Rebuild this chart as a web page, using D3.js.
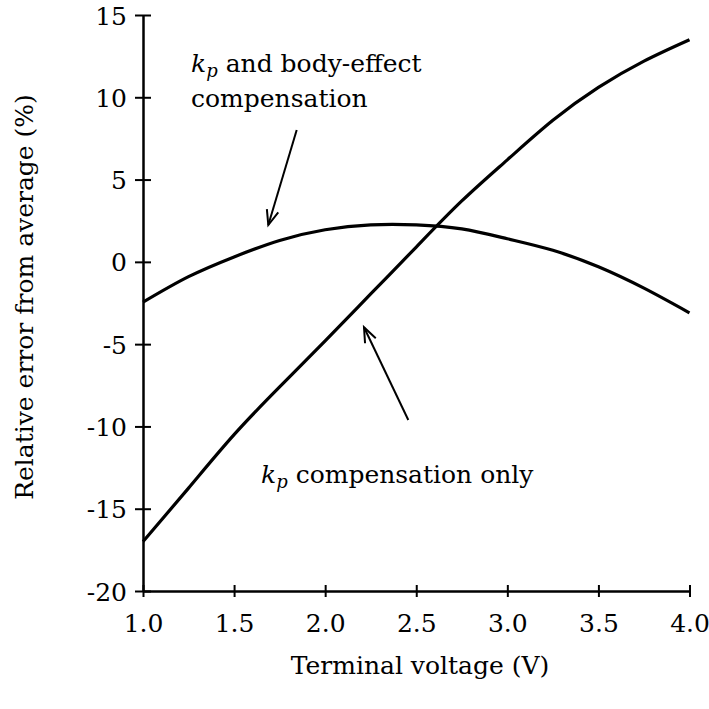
<!DOCTYPE html>
<html><head><meta charset="utf-8">
<script src="https://cdn.jsdelivr.net/npm/d3@7"></script>
<style>body{margin:0;background:#fff}svg{display:block}text{font-family:"DejaVu Serif",serif !important;fill:#000}</style>
</head><body>
<script>
const voltage = [1.0,1.25,1.5,1.75,2.0,2.25,2.5,2.75,3.0,3.25,3.5,3.75,4.0];
const kpOnly = [-17.0,-13.75,-10.5,-7.6,-4.8,-1.95,0.9,3.7,6.2,8.6,10.6,12.2,13.5];
const kpBody = [-2.45,-0.9,0.3,1.3,1.95,2.25,2.25,2.0,1.4,0.7,-0.3,-1.6,-3.1];
const xTicks = [1.0,1.5,2.0,2.5,3.0,3.5,4.0];
const yTicks = [-20,-15,-10,-5,0,5,10,15];

const W=709,H=709;
const svg=d3.select("body").append("svg").attr("width",W).attr("height",H);
const x=d3.scaleLinear().domain([1,4]).range([143,689.5]);
const y=d3.scaleLinear().domain([-20,15]).range([591,15]);
const fs=25;

// y axis
const ya=svg.append("g").attr("transform",`translate(${x(1)},0)`)
  .call(d3.axisLeft(y).tickValues(yTicks).tickSizeInner(8).tickSizeOuter(0).tickPadding(14).tickFormat(d=>String(d)));
ya.attr("font-family",null);
ya.select(".domain").attr("stroke-width",2.5);
ya.selectAll(".tick line").attr("x2",8).attr("x1",-8).attr("stroke-width",2);
ya.selectAll(".tick text").attr("font-size",fs).attr("x",-16).attr("dy","0.36em");

const xa=svg.append("g").attr("transform",`translate(0,${y(-20)})`)
  .call(d3.axisBottom(x).tickValues(xTicks).tickSizeInner(6).tickSizeOuter(0).tickPadding(14).tickFormat(d3.format(".1f")));
xa.attr("font-family",null);
xa.select(".domain").attr("stroke-width",2.5);
xa.selectAll(".tick line").attr("y1",-6).attr("y2",6).attr("stroke-width",2);
xa.selectAll(".tick text").attr("font-size",fs).attr("y",41).attr("dy",null);

// curves
const line=d3.line().x((d,i)=>x(voltage[i])).y(d=>y(d)).curve(d3.curveNatural);
[kpOnly,kpBody].forEach(s=>svg.append("path").attr("d",line(s)).attr("fill","none").attr("stroke","#000").attr("stroke-width",3.2));

// axis titles
svg.append("text").attr("x",420).attr("y",674).attr("text-anchor","middle").attr("font-size",fs).text("Terminal voltage (V)");
svg.append("text").attr("transform","translate(33,297) rotate(-90)").attr("text-anchor","middle").attr("font-size",fs).text("Relative error from average (%)");

// annotations
function kp(xx,yy,rest){
  const tx=svg.append("text").attr("x",xx).attr("y",yy).attr("font-size",fs);
  tx.append("tspan").attr("font-style","italic").text("k");
  tx.append("tspan").attr("font-style","italic").attr("font-size",fs*0.72).attr("dy",5).text("p");
  tx.append("tspan").attr("dy",-5).text(rest);
}
kp(191,72," and body-effect");
svg.append("text").attr("x",191).attr("y",107).attr("font-size",fs).text("compensation");
kp(261,483," compensation only");

function arrow(x1,y1,x2,y2){
  svg.append("line").attr("x1",x1).attr("y1",y1).attr("x2",x2).attr("y2",y2).attr("stroke","#000").attr("stroke-width",2);
  const a=Math.atan2(y2-y1,x2-x1), L=16, sp=0.38;
  const p=d3.path();
  p.moveTo(x2-L*Math.cos(a-sp),y2-L*Math.sin(a-sp));
  p.lineTo(x2,y2);
  p.lineTo(x2-L*Math.cos(a+sp),y2-L*Math.sin(a+sp));
  svg.append("path").attr("d",p.toString()).attr("fill","none").attr("stroke","#000").attr("stroke-width",2);
}
arrow(296.7,130,268.3,225);
arrow(408.3,420,364,327.3);
</script>
</body></html>
